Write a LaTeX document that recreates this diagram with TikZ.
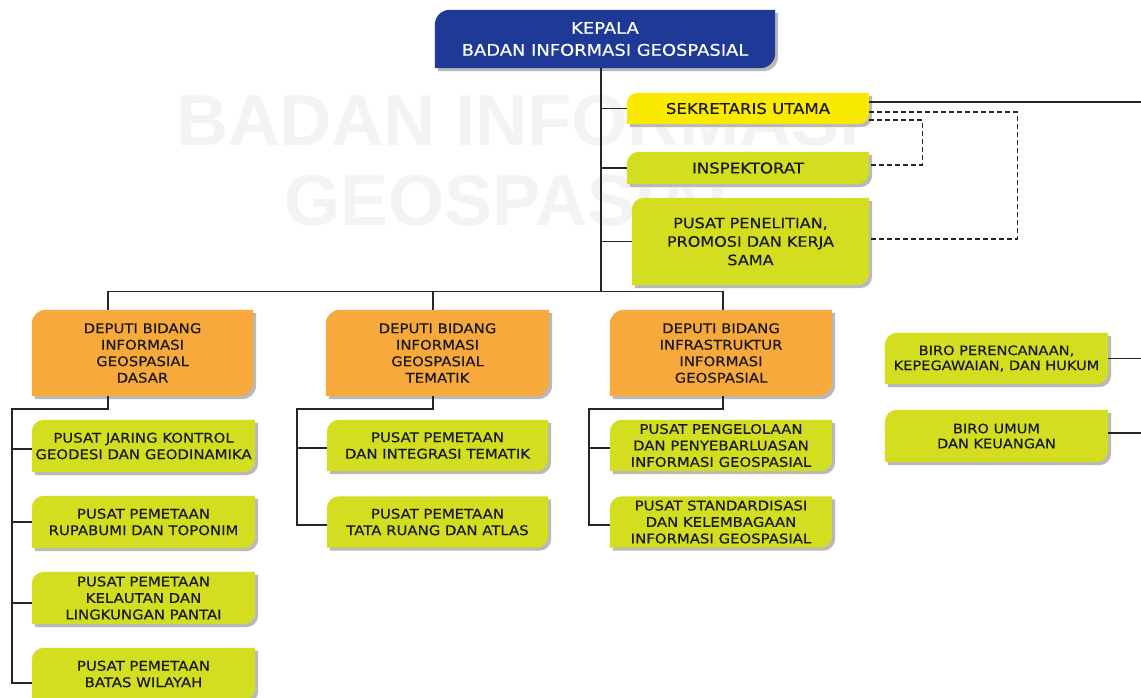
\documentclass[tikz,border=0pt]{standalone}
\usepackage{fontspec}
\setmainfont{DejaVu Sans}
\newfontfamily\unitfont{DejaVu Sans}[FakeStretch=1.12, FakeBold=0.4]
\newfontfamily\markfont{Liberation Sans}
\usetikzlibrary{backgrounds}

\definecolor{headblue}{RGB}{30,58,150}
\definecolor{sesyellow}{RGB}{250,233,0}
\definecolor{unitlime}{RGB}{212,222,32}
\definecolor{depuorange}{RGB}{247,169,60}
\definecolor{shadowgray}{RGB}{185,185,185}
\definecolor{markgray}{RGB}{243,243,243}

% box with rounded top-left and bottom-right corners, plus drop shadow
\newcommand\leafbox[3]{%
  \fill[shadowgray] ([shift={(3,-3)}]#1.south west) -- ([shift={(3,-3-#3)}]#1.north west)
    arc[start angle=180,end angle=90,radius=#3pt] -- ([shift={(3,-3)}]#1.north east)
    -- ([shift={(3,-3+#3)}]#1.south east) arc[start angle=0,end angle=-90,radius=#3pt] -- cycle;
  \fill[#2] (#1.south west) -- ([yshift=-#3pt]#1.north west)
    arc[start angle=180,end angle=90,radius=#3pt] -- (#1.north east)
    -- ([yshift=#3pt]#1.south east) arc[start angle=0,end angle=-90,radius=#3pt] -- cycle;}

\tikzset{
  unit/.style={inner sep=0pt, align=center, text=black!90,
    font=\unitfont\fontsize{13.3}{16.5}\selectfont},
  bigunit/.style={unit, font=\unitfont\fontsize{14.8}{18}\selectfont},
  unitsize/.style 2 args={minimum width=#1pt, minimum height=#2pt},
  link/.style={draw=black!85, line width=1.1pt},
  duty/.style={link, dash pattern=on 5pt off 3pt},
}

\begin{document}
\begin{tikzpicture}[x=1pt,y=1pt]
\useasboundingbox (0,0) rectangle (1141,-697);

% top
\node[unit, unitsize={340}{58}, text=white,
  font=\unitfont\fontsize{16}{22}\selectfont] (kepala) at (605,-39) {KEPALA\\BADAN INFORMASI GEOSPASIAL};
\node[bigunit, unitsize={242}{31}] (sestama) at (748,-108.5) {SEKRETARIS UTAMA};
\node[bigunit, unitsize={242}{32}] (insp) at (748,-168) {INSPEKTORAT};
\node[bigunit, unitsize={237}{87}, font=\unitfont\fontsize{14.3}{18.5}\selectfont] (pusris) at (750.5,-241.5) {PUSAT PENELITIAN,\\PROMOSI DAN KERJA\\SAMA};

% deputies
\node[unit, unitsize={221}{86}] (dep1) at (142.5,-353) {DEPUTI BIDANG\\INFORMASI\\GEOSPASIAL\\DASAR};
\node[unit, unitsize={223}{86}] (dep2) at (437.5,-353) {DEPUTI BIDANG\\INFORMASI\\GEOSPASIAL\\TEMATIK};
\node[unit, unitsize={222}{86}] (dep3) at (721,-353) {DEPUTI BIDANG\\INFRASTRUKTUR\\INFORMASI\\GEOSPASIAL};

% centres
\node[unit, unitsize={223}{52}] (jkg) at (143.5,-446) {PUSAT JARING KONTROL\\GEODESI DAN GEODINAMIKA};
\node[unit, unitsize={223}{52}] (rbt) at (143.5,-522) {PUSAT PEMETAAN\\RUPABUMI DAN TOPONIM};
\node[unit, unitsize={223}{52}] (klp) at (143.5,-598) {PUSAT PEMETAAN\\KELAUTAN DAN\\LINGKUNGAN PANTAI};
\node[unit, unitsize={223}{52}] (pbw) at (143.5,-674) {PUSAT PEMETAAN\\BATAS WILAYAH};
\node[unit, unitsize={221}{51}] (pit) at (437.5,-445.5) {PUSAT PEMETAAN\\DAN INTEGRASI TEMATIK};
\node[unit, unitsize={221}{51}] (ptr) at (437.5,-522) {PUSAT PEMETAAN\\TATA RUANG DAN ATLAS};
\node[unit, unitsize={222}{51}] (ppi) at (721,-445.5) {PUSAT PENGELOLAAN\\DAN PENYEBARLUASAN\\INFORMASI GEOSPASIAL};
\node[unit, unitsize={222}{51}] (psk) at (721,-522) {PUSAT STANDARDISASI\\DAN KELEMBAGAAN\\INFORMASI GEOSPASIAL};

% bureaus
\node[unit, unitsize={223}{51}, font=\unitfont\fontsize{13}{15}\selectfont] (biro1) at (996.5,-358.5) {BIRO PERENCANAAN,\\KEPEGAWAIAN, DAN HUKUM};
\node[unit, unitsize={223}{52}, font=\unitfont\fontsize{13}{15}\selectfont] (biro2) at (996.5,-436) {BIRO UMUM\\DAN KEUANGAN};

\begin{scope}[on background layer]
  \fill[white] (0,0) rectangle (1141,-697);
  \node[font=\markfont\bfseries\fontsize{72}{80}\selectfont, text=markgray, align=center] (mark) at (518,-161) {BADAN INFORMASI\\GEOSPASIAL};
  \leafbox{kepala}{headblue}{15}
  \leafbox{sestama}{sesyellow}{11}
  \foreach \u in {insp,pusris,jkg,rbt,klp,pbw,pit,ptr,ppi,psk,biro1,biro2} {\leafbox{\u}{unitlime}{12}}
  \foreach \u in {dep1,dep2,dep3} {\leafbox{\u}{depuorange}{14}}
\end{scope}

\coordinate (bus) at (601,-292);
\coordinate (edge) at (1141,0);
\coordinate (rail1) at (12,-409);
\coordinate (rail2) at (297,-409);
\coordinate (rail3) at (589,-409);

\draw[link] (kepala.south -| bus) -- (bus);
\foreach \u in {sestama,insp,pusris} \draw[link] (bus |- \u.west) -- (\u.west);
\draw[link] ([xshift=-34.5]dep1.north) -- ++(0,18) -| ([xshift=2]dep3.north);
\draw[link] ([xshift=-4.5]dep2.north) -- ++(0,18);

\draw[link] ([xshift=-34.5]dep1.south) |- (rail1) |- ([yshift=-9]pbw.west);
\foreach \u/\dy in {jkg/-3, rbt/0, klp/-5} \draw[link] ([yshift=\dy pt]\u.west) -- ++(-20,0);
\draw[link] ([xshift=-4.5]dep2.south) |- (rail2) |- ([yshift=-3]ptr.west);
\draw[link] ([yshift=-2.5]pit.west) -- ++(-30,0);
\draw[link] ([xshift=2]dep3.south) |- (rail3) |- ([yshift=-3]psk.west);
\draw[link] ([yshift=-2.5]ppi.west) -- ++(-21,0);

\draw[link] ([yshift=6.5]sestama.east) -- ([yshift=6.5]sestama.east -| edge);
\draw[link] (biro1.east) -- (biro1.east -| edge);
\draw[link] ([yshift=3]biro2.east) -- ([yshift=3]biro2.east -| edge);
\draw[duty] ([yshift=-3.5]sestama.east) -- ++(148,0) |- ([yshift=2.5]pusris.east);
\draw[duty] ([yshift=-11.5]sestama.east) -- ++(53,0) |- ([yshift=3]insp.east);
\end{tikzpicture}
\end{document}
